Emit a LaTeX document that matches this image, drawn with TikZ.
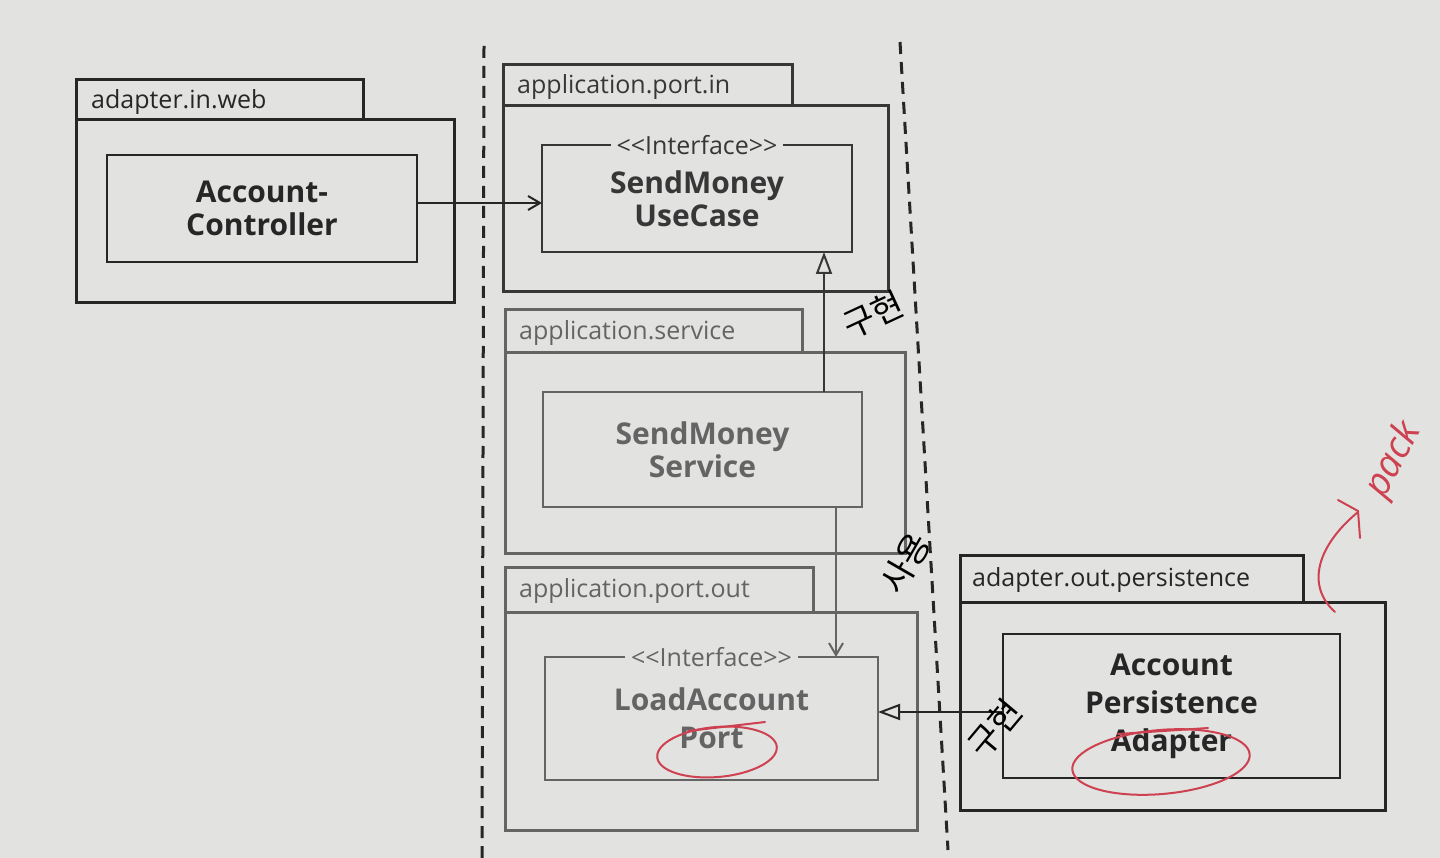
\documentclass[tikz,border=0pt]{standalone}
\usepackage{fontspec}
\setmainfont{Open Sans}
\newfontfamily\nsans{Open Sans}
\newfontfamily\kr{Noto Sans CJK KR}
\usetikzlibrary{arrows.meta}
\definecolor{paper}{RGB}{226,227,225}
\definecolor{ink}{RGB}{38,38,38}
\definecolor{midink}{RGB}{55,55,55}
\definecolor{fade}{RGB}{100,100,100}
\definecolor{redpen}{RGB}{205,65,80}
\tikzset{
  tabbox/.style={draw=#1, line width=3pt, fill=paper, inner sep=0pt, outer sep=0pt, anchor=north west},
  bodybox/.style={draw=#1, line width=3pt, fill=paper, inner sep=0pt, outer sep=0pt, anchor=north west},
  pkglabel/.style={text=#1, anchor=west, inner sep=0pt, font=\nsans\fontsize{25}{28}\selectfont},
  cls/.style={draw=#1, text=#1, line width=2pt, fill=paper, inner sep=0pt, outer sep=0pt, align=center, font=\nsans\bfseries\fontsize{30}{33}\selectfont},
  stereo/.style={fill=paper, text=#1, inner xsep=6pt, inner ysep=1pt, font=\nsans\fontsize{25}{26}\selectfont},
  sepline/.style={draw=ink, line width=3pt, dash pattern=on 12pt off 8pt},
  dep/.style={draw=#1, line width=2pt, -{Straight Barb[length=12pt, width=14pt, line width=2pt]}},
  impl/.style={draw=#1, line width=2pt, -{Triangle[open, length=22pt, width=16pt, line width=2pt, fill=paper]}},
  hand/.style={text=black, inner sep=0pt, font=\kr\fontsize{34}{34}\selectfont},
  redline/.style={draw=redpen, line width=2pt, line cap=round},
  redtext/.style={text=redpen, inner sep=0pt, font=\nsans\itshape\fontsize{38}{38}\selectfont}
}
\begin{document}
\begin{tikzpicture}[x=1pt,y=-1pt]
\useasboundingbox[fill=paper] (0,0) rectangle (1440,858);

% separators
\coordinate (d1a) at (484,46);
\coordinate (d1b) at (482,858);
\draw[sepline] (d1a) -- (d1b);
\coordinate (d2a) at (900,42);
\coordinate (d2b) at (948,850);
\draw[sepline] (d2a) -- (d2b);

% adapter.in.web
\node[tabbox=ink, minimum width=287, minimum height=40] (webtab) at (76,80) {};
\node[bodybox=ink, minimum width=378, minimum height=183] (webbody) at (76,120) {};
\node[pkglabel=ink] (webl) at ([xshift=15pt,yshift=-2pt]webtab.west) {adapter.in.web};
\node[cls=ink, minimum width=310, minimum height=107] (ctrl) at (262,208.5) {Account-\\Controller};

% application.port.in
\node[tabbox=midink, minimum width=289, minimum height=41] (pintab) at (503,65) {};
\node[bodybox=midink, minimum width=385, minimum height=186] (pinbody) at (503,106) {};
\node[pkglabel=midink] (pinl) at ([xshift=14pt,yshift=-2pt]pintab.west) {application.port.in};
\node[cls=midink, minimum width=310, minimum height=107] (usecase) at (697,198.5) {SendMoney\\UseCase};
\node[stereo=midink] (usest) at (usecase.north) {<<Interface>>};

% application.service
\node[tabbox=fade, minimum width=297, minimum height=43] (svctab) at (505,310) {};
\node[bodybox=fade, minimum width=400, minimum height=200] (svcbody) at (505,353) {};
\node[pkglabel=fade] (svcl) at ([xshift=14pt,yshift=-2pt]svctab.west) {application.service};
\node[cls=fade, minimum width=319, minimum height=115] (service) at (702.5,449.5) {SendMoney\\Service};

% application.port.out
\node[tabbox=fade, minimum width=308, minimum height=45] (pouttab) at (505,567) {};
\node[bodybox=fade, minimum width=412, minimum height=218] (poutbody) at (505,612) {};
\node[pkglabel=fade] (poutl) at ([xshift=14pt,yshift=-2pt]pouttab.west) {application.port.out};
\node[cls=fade, minimum width=333, minimum height=123, font=\nsans\bfseries\fontsize{30}{38}\selectfont] (loadport) at (711.5,718.5) {LoadAccount\\Port};
\node[stereo=fade] (loadst) at (loadport.north) {<<Interface>>};

% adapter.out.persistence
\node[tabbox=ink, minimum width=343, minimum height=47] (perstab) at (960,555) {};
\node[bodybox=ink, minimum width=425, minimum height=208] (persbody) at (960,602) {};
\node[pkglabel=ink] (persl) at ([xshift=12pt,yshift=-2pt]perstab.west) {adapter.out.persistence};
\node[cls=ink, minimum width=337, minimum height=144, font=\nsans\bfseries\fontsize{30}{38}\selectfont] (adapter) at (1171.5,706) {Account\\Persistence\\Adapter};

% connectors
\coordinate (u1) at ([yshift=-4.5pt]usecase.west);
\draw[dep=ink] (u1 -| ctrl.east) -- (u1);
\coordinate (s1) at ([xshift=121.5pt]service.north);
\draw[impl=midink] (s1) -- (s1 |- usecase.south);
\coordinate (s2) at ([xshift=133.5pt]service.south);
\draw[dep=fade] (s2) -- (s2 |- loadport.north);
\coordinate (a1) at ([yshift=-6pt]adapter.west);
\draw[impl=ink] (a1) -- (a1 -| loadport.east);

% handwritten notes
\node[hand, rotate=25] (h1) at (873,315) {구현};
\node[hand, rotate=60] (h2) at (905,563) {사용};
\node[hand, rotate=50] (h3) at (995,728) {구현};

% red pen marks
\draw[redline, rotate around={5:(717,752)}] (717,752) ellipse [x radius=60pt, y radius=25pt];
\draw[redline] (688,731) -- (765,722);
\draw[redline, rotate around={5:(1161,762)}] (1161,762) ellipse [x radius=89pt, y radius=32pt];
\draw[redline] (1118,734) -- (1208,728);
\draw[redline] (1335,612) .. controls (1305,585) and (1318,545) .. (1358,512);
\draw[redline] (1338,500) -- (1358,511) -- (1360,538);
\node[redtext, rotate=62, anchor=base west] (pk) at (1384,500) {pack};
\end{tikzpicture}
\end{document}
